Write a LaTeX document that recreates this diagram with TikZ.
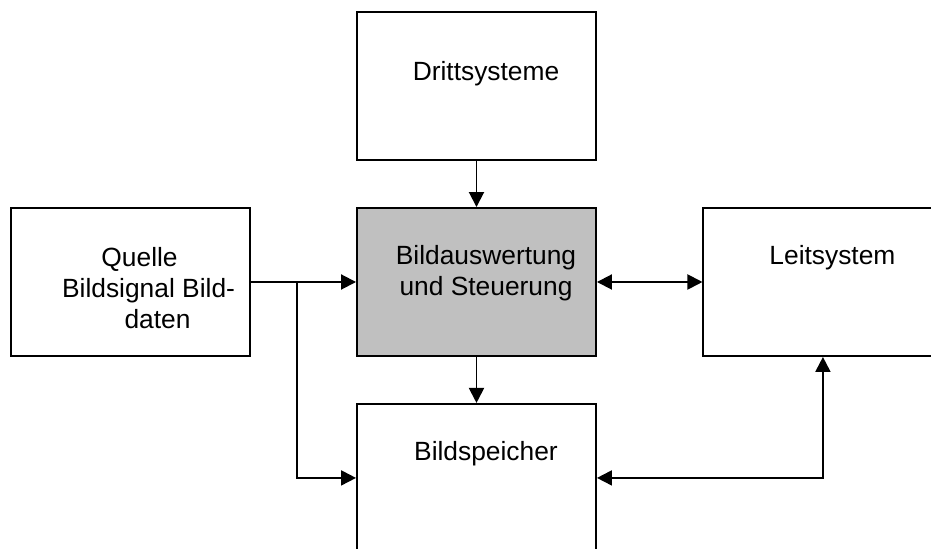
\documentclass[tikz,border=0pt]{standalone}
\usepackage{fontspec}
\setmainfont{Liberation Sans}
\usepackage{xcolor}
\usepackage{tikz}
\usetikzlibrary{shapes,arrows,arrows.meta,positioning,calc}

\definecolor{boxgray}{RGB}{192,192,192}

\begin{document}
\begin{tikzpicture}[
  node distance=0.92cm and 2.11cm,
  block/.style={draw, rectangle, line width=1.1pt, minimum width=4.78cm, minimum height=2.96cm, inner sep=0pt},
  blocktext/.style={anchor=north, align=center, inner sep=0pt, font=\fontsize{15}{17.6}\selectfont},
  conn/.style={line width=1.1pt, >={Triangle[length=3mm,width=3mm]}},
]
\useasboundingbox (-9.53,-5.34) rectangle (9.09,5.64);
\clip (-9.53,-5.34) rectangle (9.09,5.64);

\node[block, fill=boxgray] (ctrl) at (0,0) {};
\node[block, above=of ctrl] (dritt) {};
\node[block, left=of ctrl] (quelle) {};
\node[block, right=of ctrl] (leit) {};
\node[block, below=of ctrl] (speicher) {};

% Beschriftungen
\node[blocktext] (dritt-txt) at ($(dritt.north)+(0.19,-0.99)$) {Drittsysteme};
\node[blocktext] (ctrl-txt) at ($(ctrl.north)+(0.19,-0.77)$) {Bildauswertung\\und Steuerung};
\node[blocktext] (quelle-txt) at ($(quelle.north)+(0.19,-0.8)$)
  {Quelle\\\hspace*{0.36cm}Bildsignal Bild-\\\hspace*{0.72cm}daten};
\node[blocktext] (leit-txt) at ($(leit.north)+(0.19,-0.77)$) {Leitsystem};
\node[blocktext] (speicher-txt) at ($(speicher.north)+(0.19,-0.77)$) {Bildspeicher};

% Verbindungen
\coordinate (branch) at ($(quelle.east)!0.44!(ctrl.west)$);
\draw[conn, ->] (dritt) -- (ctrl);
\draw[conn, ->] (ctrl) -- (speicher);
\draw[conn, ->] (quelle.east) -- (ctrl.west);
\draw[conn, ->] (branch) |- (speicher.west);
\draw[conn, <->] (ctrl.east) -- (leit.west);
\draw[conn, <->] (leit.south) |- (speicher.east);
\end{tikzpicture}
\end{document}
